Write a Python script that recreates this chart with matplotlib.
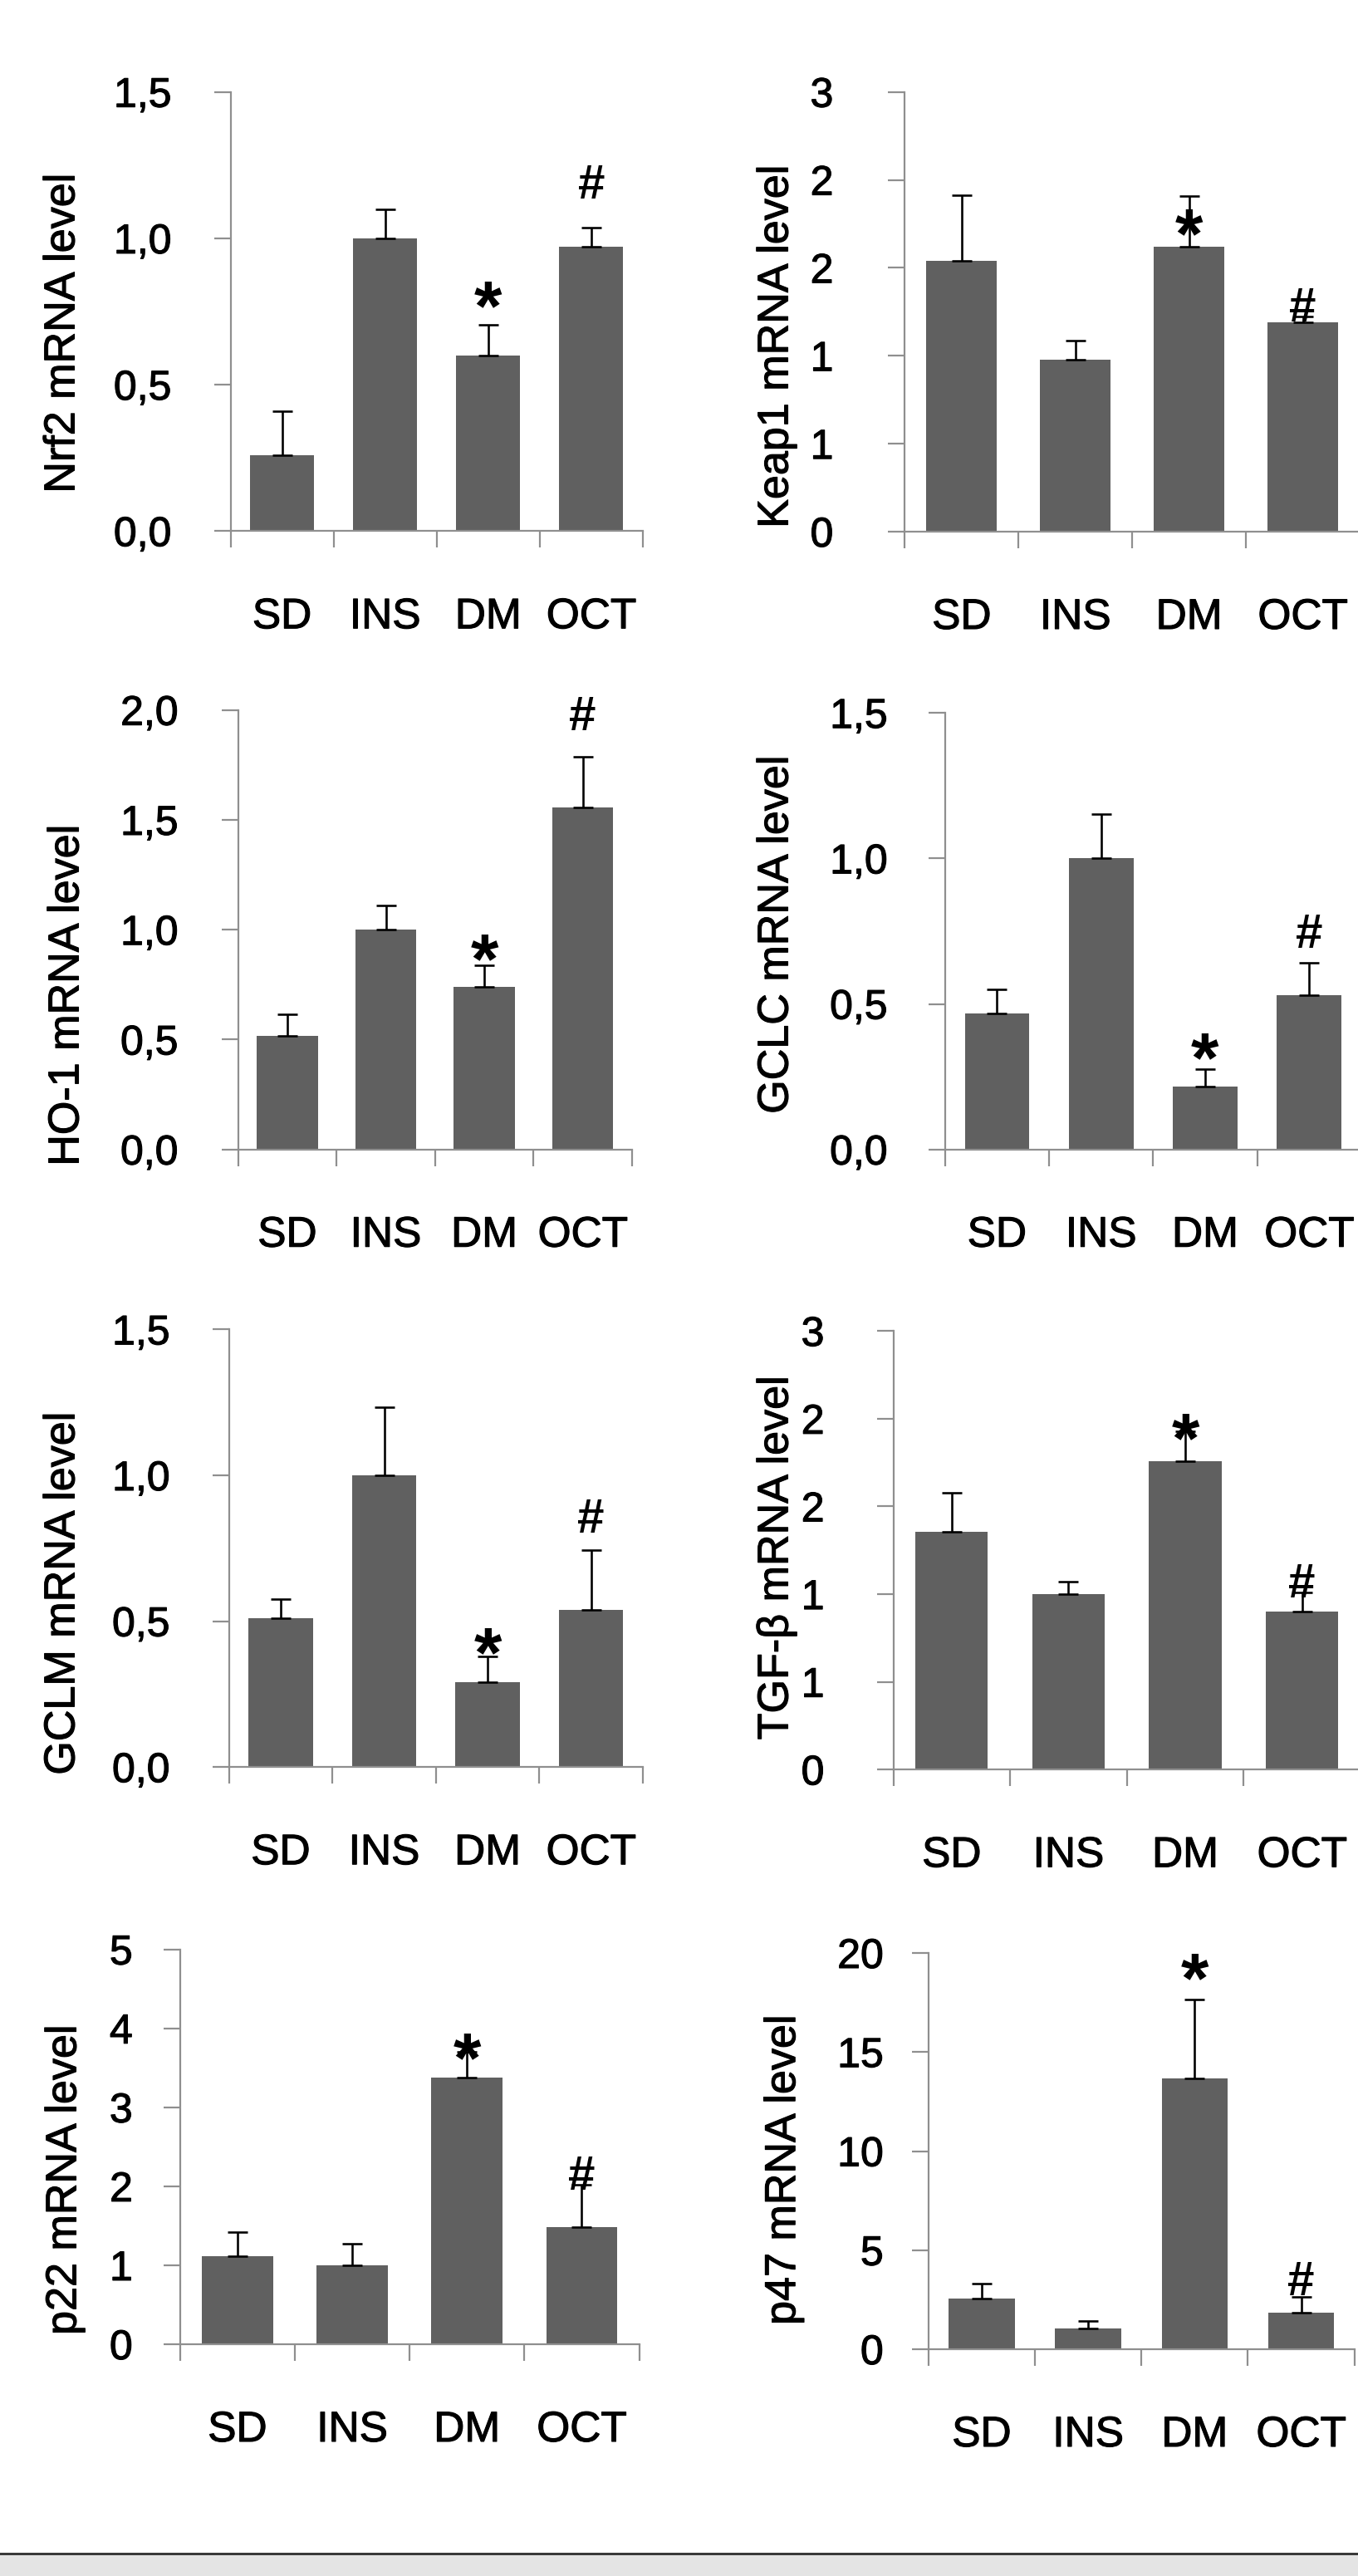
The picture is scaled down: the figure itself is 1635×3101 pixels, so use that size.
import matplotlib
matplotlib.use("Agg")
import matplotlib.pyplot as plt
from matplotlib.patches import Rectangle
from matplotlib.lines import Line2D
import matplotlib.patheffects as pe

plt.rcParams['font.family'] = ['Liberation Sans', 'DejaVu Sans']

# ---------------- data ----------------
groups = ['SD', 'INS', 'DM', 'OCT']

nrf2_mean = [0.26, 1.00, 0.60, 0.97]
nrf2_err = [0.15, 0.10, 0.105, 0.066]
keap1_mean = [1.54, 0.98, 1.62, 1.19]
keap1_err = [0.375, 0.107, 0.286, 0.035]
ho1_mean = [0.516, 1.00, 0.74, 1.556]
ho1_err = [0.10, 0.11, 0.10, 0.233]
gclc_mean = [0.467, 1.00, 0.216, 0.529]
gclc_err = [0.084, 0.151, 0.06, 0.112]
gclm_mean = [0.51, 1.00, 0.29, 0.54]
gclm_err = [0.066, 0.234, 0.089, 0.204]
tgfb_mean = [1.355, 1.00, 1.76, 0.90]
tgfb_err = [0.224, 0.072, 0.17, 0.11]
p22_mean = [1.12, 1.00, 3.38, 1.48]
p22_err = [0.295, 0.27, 0.32, 0.54]
p47_mean = [2.55, 1.03, 13.66, 1.83]
p47_err = [0.78, 0.41, 4.01, 0.80]

# heights of the significance marks (* over DM, # over OCT)
nrf2_marks = [0.823, 1.194]
keap1_marks = [1.786, 1.293]
ho1_marks = [0.939, 1.987]
gclc_marks = [0.371, 0.752]
gclm_marks = [0.449, 0.862]
tgfb_marks = [1.982, 1.078]
p22_marks = [3.83, 2.17]
p47_marks = [19.55, 3.6]

ticks_15 = [0, 0.5, 1.0, 1.5]
labels_15 = ['0,0', '0,5', '1,0', '1,5']
ticks_20 = [0, 0.5, 1.0, 1.5, 2.0]
labels_20 = ['0,0', '0,5', '1,0', '1,5', '2,0']
ticks_25 = [0, 0.5, 1.0, 1.5, 2.0, 2.5]
labels_25 = ['0', '1', '1', '2', '2', '3']
ticks_5 = [0, 1, 2, 3, 4, 5]
labels_5 = ['0', '1', '2', '3', '4', '5']
ticks_p47 = [0, 5, 10, 15, 20]
labels_p47 = ['0', '5', '10', '15', '20']

ylabels = ['Nrf2 mRNA level', 'Keap1 mRNA level', 'HO-1 mRNA level', 'GCLC mRNA level',
           'GCLM mRNA level', 'TGF-β mRNA level', 'p22 mRNA level', 'p47 mRNA level']

# ---------------- layout (pixels) ----------------
W, H = 1635, 3101
DPI = 100
PT = 72.0 / DPI

# axis_x, right_x, zero_y, top_y, ticklabel_gap, ylabel_x, ylabel_y
layout = [
    (277.5, 774, 639.3, 110.7, 71, 76, 401),
    (1089.4, 1637, 640, 110.7, 86, 935, 417),
    (286.6, 761, 1383.7, 854.7, 72, 81, 1198),
    (1137.7, 1639, 1383.7, 858.2, 69, 935, 1125),
    (275.6, 774, 2127.2, 1600.4, 71, 76, 1918),
    (1075.5, 1638, 2130.3, 1602.2, 83, 935, 1875),
    (216.8, 769.5, 2822, 2346.7, 57, 78, 2624),
    (1117.8, 1630.7, 2828, 2351, 54, 943.7, 2612),
]

panels = [
    (nrf2_mean, nrf2_err, nrf2_marks, ticks_15, labels_15),
    (keap1_mean, keap1_err, keap1_marks, ticks_25, labels_25),
    (ho1_mean, ho1_err, ho1_marks, ticks_20, labels_20),
    (gclc_mean, gclc_err, gclc_marks, ticks_15, labels_15),
    (gclm_mean, gclm_err, gclm_marks, ticks_15, labels_15),
    (tgfb_mean, tgfb_err, tgfb_marks, ticks_25, labels_25),
    (p22_mean, p22_err, p22_marks, ticks_5, labels_5),
    (p47_mean, p47_err, p47_marks, ticks_p47, labels_p47),
]

BAR = '#606060'
AXC = '#8f8f8f'
TICKLEN = 20  # px
FX = [pe.withStroke(linewidth=0.8, foreground='black')]
STAR_FS = 62
HASH_FS = 42

fig = plt.figure(figsize=(W / DPI, H / DPI), dpi=DPI)
fig.patch.set_facecolor('white')

for (mean, err, marks, yt, ytl), lab, (ax_x, r_x, zy, ty, gap, lx, ly) in zip(panels, ylabels, layout):
    ax = fig.add_axes([ax_x / W, 1 - zy / H, (r_x - ax_x) / W, (zy - ty) / H])
    x = [i + 0.5 for i in range(len(groups))]
    ax.bar(x, mean, width=0.62, color=BAR, zorder=2)
    ax.errorbar(x, mean, yerr=[[0] * len(err), err], fmt='none', ecolor='black',
                elinewidth=2.6 * PT, capsize=12 * PT, capthick=2.6 * PT, zorder=3)
    ax.set_xlim(0, 4)
    ax.set_ylim(yt[0], yt[-1])
    ax.set_yticks(yt)
    ax.set_yticklabels(ytl)
    ax.set_xticks([0, 1, 2, 3, 4])
    ax.set_xticklabels([])
    for s in ['top', 'right']:
        ax.spines[s].set_visible(False)
    for s in ['left', 'bottom']:
        ax.spines[s].set_color(AXC)
        ax.spines[s].set_linewidth(2.2 * PT)
        ax.spines[s].set_clip_on(False)
    ax.tick_params(axis='both', direction='out', length=TICKLEN * PT, width=2.2 * PT,
                   color=AXC)
    ax.tick_params(axis='y', labelsize=36, pad=(gap - TICKLEN) * PT, labelcolor='black')
    for t in ax.get_yticklabels():
        t.set_path_effects(FX)
    ax.patch.set_alpha(0)
    # category labels
    for xi, g in zip(x, groups):
        ax.annotate(g, xy=(xi, 0), xycoords='data', xytext=(0, -103.5 * PT),
                    textcoords='offset points', ha='center', va='center', fontsize=37,
                    annotation_clip=False, path_effects=FX)
    # significance marks
    ax.annotate('*', xy=(x[2], marks[0]), xycoords='data', xytext=(0, -0.56 * STAR_FS),
                textcoords='offset points', ha='center', va='baseline', fontsize=STAR_FS,
                fontweight='bold', annotation_clip=False, zorder=4)
    ax.annotate('#', xy=(x[3], marks[1]), xycoords='data', xytext=(0, -0.35 * HASH_FS),
                textcoords='offset points', ha='center', va='baseline', fontsize=HASH_FS,
                fontweight='bold', annotation_clip=False, zorder=4)
    ax.set_ylabel(lab, fontsize=37.5)
    ax.yaxis.set_label_coords(lx / W, 1 - ly / H, transform=fig.transFigure)
    ax.yaxis.label.set_va('center')
    ax.yaxis.label.set_ha('center')
    ax.yaxis.label.set_path_effects(FX)

# bottom frame of the screenshot
fig.patches.append(Rectangle((0, 0), 1, 26 / H, transform=fig.transFigure,
                             facecolor='#e4e4e4', edgecolor='none'))
fig.lines.append(Line2D([0, 1], [1 - 3074 / H, 1 - 3074 / H], transform=fig.transFigure,
                        color='#3a3a3a', linewidth=3 * PT))

fig.savefig('out.png', dpi=DPI)
